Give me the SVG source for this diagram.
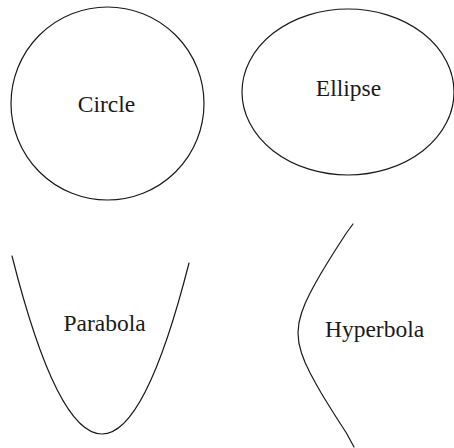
<svg xmlns="http://www.w3.org/2000/svg" width="454" height="448" viewBox="0 0 454 448">
<style>
.curve{fill:none;stroke:#1a1a1a;stroke-width:1.2;stroke-linejoin:round;stroke-linecap:round}
.lbl{font-family:"Liberation Serif","Times New Roman",serif;font-size:23.5px;fill:#1a1a1a;text-anchor:middle}
</style>
<rect width="454" height="448" fill="#ffffff"/>
<g id="circle">
<circle class="curve" cx="107.5" cy="103.5" r="96.5"/>
<text class="lbl" x="106.5" y="112">Circle</text>
</g>
<g id="ellipse">
<ellipse class="curve" cx="348" cy="92" rx="106" ry="83"/>
<text class="lbl" x="348.5" y="96">Ellipse</text>
</g>
<g id="parabola">
<path class="curve" d="M12,256 Q57,434 102,434 Q145.5,434 189,263"/>
<text class="lbl" x="104.5" y="331">Parabola</text>
</g>
<g id="hyperbola">
<path class="curve" d="M353,224 L346.4,233 L339.9,243 L333.5,253 L327.3,263 L321.2,273 L315.5,283 L310.1,293 L305.3,303 L301.5,313 L298.9,323 L298,333 L298.9,343 L301.5,353 L305.3,363 L310.1,373 L315.5,383 L321.2,393 L327.3,403 L333.5,413 L339.9,423 L346.4,433 L354,447"/>
<text class="lbl" x="374.5" y="337">Hyperbola</text>
</g>
<g id="connectors"></g>
</svg>
